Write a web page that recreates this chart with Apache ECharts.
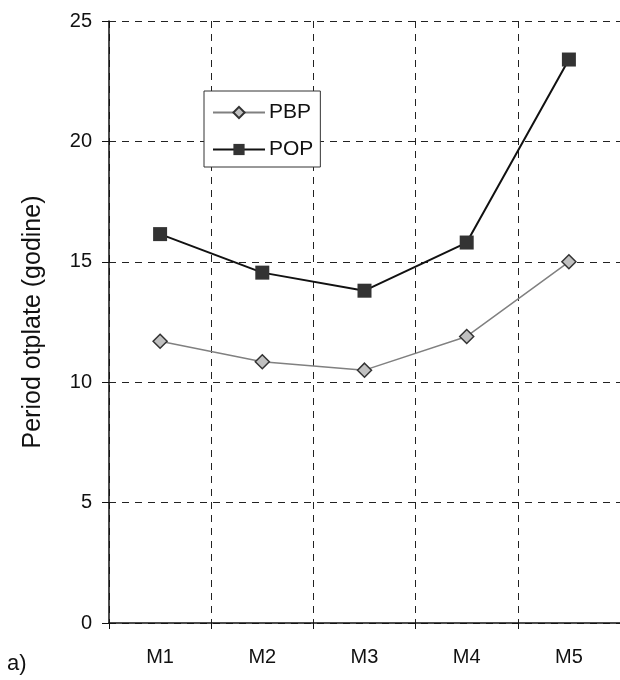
<!DOCTYPE html>
<html>
<head>
<meta charset="utf-8">
<script src="https://cdn.jsdelivr.net/npm/echarts@6/dist/echarts.min.js"></script>
<style>
  html, body { margin: 0; padding: 0; background: #fff; }
  #chart { width: 620px; height: 680px; }
</style>
</head>
<body>
<div id="chart"></div>
<script>
// kategorije i vrijednosti
var categories = ["M1", "M2", "M3", "M4", "M5"];
var pbpValues = [11.7, 10.85, 10.5, 11.9, 15.0];
var popValues = [16.15, 14.55, 13.8, 15.8, 23.4];
var yTicks = [0, 5, 10, 15, 20, 25];

(function () {
    var myChart = echarts.init(document.getElementById("chart"));

    var option = {
        backgroundColor: "#fff",
        animation: false,
        textStyle: { fontFamily: "Liberation Sans, Arial, sans-serif" },
        grid: {
            left: 109,
            right: -6,
            top: 21,
            bottom: 57
        },
        legend: {
            orient: "vertical",
            left: 204,
            top: 91,
            itemWidth: 52,
            itemHeight: 14,
            itemGap: 16,
            padding: [11, 7, 7, 8],
            backgroundColor: "#fff",
            borderColor: "#333",
            borderWidth: 1,
            textStyle: { fontSize: 21, color: "#111", padding: [0, 0, 0, -1] },
            data: ["PBP", "POP"]
        },
        xAxis: {
            type: "category",
            data: categories,
            boundaryGap: true,
            axisLine: { lineStyle: { color: "#111", width: 1.5 } },
            axisTick: { show: true, length: 6, lineStyle: { color: "#111" } },
            axisLabel: { fontSize: 20, color: "#111", margin: 24 },
            splitLine: {
                show: true,
                lineStyle: { color: "#222", type: [7, 6], width: 1 }
            }
        },
        yAxis: {
            type: "value",
            min: yTicks[0],
            max: yTicks[yTicks.length - 1],
            interval: 5,
            name: "Period otplate (godine)",
            nameLocation: "middle",
            nameGap: 63,
            nameTextStyle: { fontSize: 25, color: "#111" },
            axisLine: { show: true, lineStyle: { color: "#111", width: 1.5 } },
            axisTick: { show: true, length: 7, lineStyle: { color: "#111" } },
            axisLabel: { fontSize: 20, color: "#111", margin: 17 },
            splitLine: {
                show: true,
                lineStyle: { color: "#222", type: [7, 6], width: 1 }
            }
        },
        series: [
            {
                name: "PBP",
                type: "line",
                data: pbpValues,
                symbol: "diamond",
                symbolSize: 14,
                lineStyle: { color: "#808080", width: 1.5 },
                itemStyle: { color: "#c0c0c0", borderColor: "#333", borderWidth: 1.5 },
                z: 3
            },
            {
                name: "POP",
                type: "line",
                data: popValues,
                symbol: "rect",
                symbolSize: 14,
                lineStyle: { color: "#111", width: 2 },
                itemStyle: { color: "#333", borderColor: "#333", borderWidth: 0 },
                z: 4
            }
        ],
        graphic: [
            {
                type: "text",
                left: 7,
                top: 653,
                style: { text: "a)", fontSize: 22, fill: "#111", fontFamily: "Liberation Sans, Arial, sans-serif" }
            }
        ]
    };

    myChart.setOption(option);
    window.addEventListener("resize", function () {
        myChart.resize();
    });
})();
</script>
</body>
</html>
